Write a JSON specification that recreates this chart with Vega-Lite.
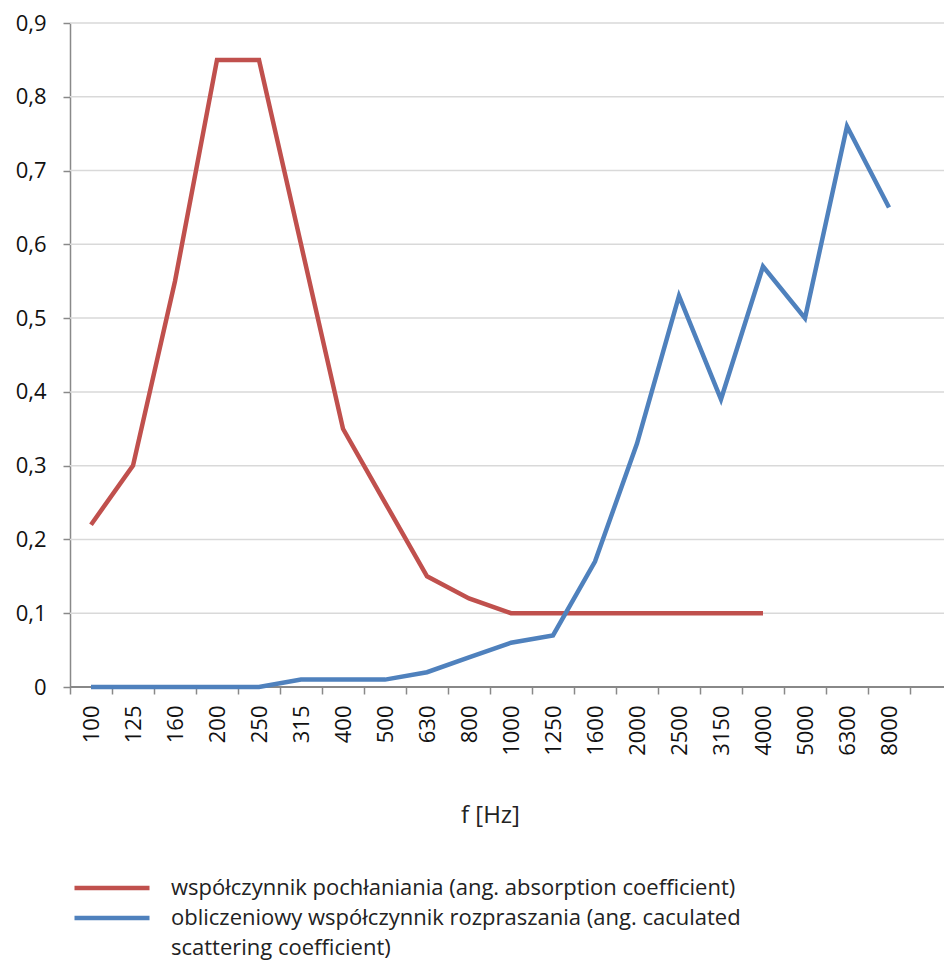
{
  "$schema": "https://vega.github.io/schema/vega-lite/v6.json",
  "width": 874,
  "height": 664,
  "autosize": {"type": "none"},
  "padding": {"left": 70, "top": 23, "right": 0, "bottom": 276},
  "background": "white",
  "config": {
    "font": "Open Sans",
    "view": {"stroke": null}
  },
  "data": {
    "values": [
      {"f": "100", "s": "A", "v": 0.22},
      {"f": "125", "s": "A", "v": 0.30},
      {"f": "160", "s": "A", "v": 0.55},
      {"f": "200", "s": "A", "v": 0.85},
      {"f": "250", "s": "A", "v": 0.85},
      {"f": "315", "s": "A", "v": 0.60},
      {"f": "400", "s": "A", "v": 0.35},
      {"f": "500", "s": "A", "v": 0.25},
      {"f": "630", "s": "A", "v": 0.15},
      {"f": "800", "s": "A", "v": 0.12},
      {"f": "1000", "s": "A", "v": 0.10},
      {"f": "1250", "s": "A", "v": 0.10},
      {"f": "1600", "s": "A", "v": 0.10},
      {"f": "2000", "s": "A", "v": 0.10},
      {"f": "2500", "s": "A", "v": 0.10},
      {"f": "3150", "s": "A", "v": 0.10},
      {"f": "4000", "s": "A", "v": 0.10},
      {"f": "100", "s": "B", "v": 0.0},
      {"f": "125", "s": "B", "v": 0.0},
      {"f": "160", "s": "B", "v": 0.0},
      {"f": "200", "s": "B", "v": 0.0},
      {"f": "250", "s": "B", "v": 0.0},
      {"f": "315", "s": "B", "v": 0.01},
      {"f": "400", "s": "B", "v": 0.01},
      {"f": "500", "s": "B", "v": 0.01},
      {"f": "630", "s": "B", "v": 0.02},
      {"f": "800", "s": "B", "v": 0.04},
      {"f": "1000", "s": "B", "v": 0.06},
      {"f": "1250", "s": "B", "v": 0.07},
      {"f": "1600", "s": "B", "v": 0.17},
      {"f": "2000", "s": "B", "v": 0.33},
      {"f": "2500", "s": "B", "v": 0.53},
      {"f": "3150", "s": "B", "v": 0.39},
      {"f": "4000", "s": "B", "v": 0.57},
      {"f": "5000", "s": "B", "v": 0.50},
      {"f": "6300", "s": "B", "v": 0.76},
      {"f": "8000", "s": "B", "v": 0.65}
    ]
  },
  "layer": [
    {
      "data": {"values": [{"g": 0.1}, {"g": 0.2}, {"g": 0.3}, {"g": 0.4}, {"g": 0.5}, {"g": 0.6}, {"g": 0.7}, {"g": 0.8}, {"g": 0.9}]},
      "mark": {"type": "rule", "color": "#d9d9d9", "strokeWidth": 1.5},
      "encoding": {"y": {"field": "g", "type": "quantitative"}}
    },
    {
      "mark": {"type": "rule", "color": "#898989", "strokeWidth": 1.5},
      "encoding": {"y": {"datum": 0, "type": "quantitative"}}
    },
    {
      "mark": {"type": "line", "strokeWidth": 4.5, "strokeCap": "butt", "strokeJoin": "miter"},
      "encoding": {
        "x": {
          "field": "f",
          "type": "ordinal",
          "sort": null,
          "scale": {
            "type": "band",
            "domain": ["100","125","160","200","250","315","400","500","630","800","1000","1250","1600","2000","2500","3150","4000","5000","6300","8000"],
            "range": [0, 840],
            "paddingInner": 0,
            "paddingOuter": 0
          },
          "axis": {
            "title": "f [Hz]",
            "titleFontSize": 24,
            "titleFontWeight": "normal",
            "titleColor": "#222",
            "titlePadding": 48,
            "labelAngle": -90,
            "labelAlign": "right",
            "labelBaseline": "middle",
            "labelFontSize": 22,
            "labelColor": "#111",
            "labelPadding": 11,
            "tickBand": "extent",
            "tickColor": "#898989",
            "tickSize": 7,
            "tickWidth": 1.5,
            "domain": false,
            "grid": false
          }
        },
        "y": {
          "field": "v",
          "type": "quantitative",
          "scale": {"domain": [0, 0.9], "nice": false},
          "axis": {
            "title": null,
            "values": [0, 0.1, 0.2, 0.3, 0.4, 0.5, 0.6, 0.7, 0.8, 0.9],
            "labelExpr": "datum.value == 0 ? '0' : replace(format(datum.value, '.1f'), '.', ',')",
            "labelFontSize": 22,
            "labelColor": "#111",
            "labelPadding": 17,
            "domainColor": "#898989",
            "domainWidth": 1.5,
            "tickColor": "#898989",
            "tickSize": 7,
            "tickWidth": 1.5,
            "grid": false
          }
        },
        "color": {
          "field": "s",
          "type": "nominal",
          "scale": {"domain": ["A", "B", "C"], "range": ["#C0504D", "#4F81BD", "rgba(255,255,255,0)"]},
          "legend": {
            "title": null,
            "orient": "none",
            "legendX": 31,
            "legendY": 854,
            "direction": "vertical",
            "symbolType": "M-5,0H5",
            "symbolSize": 225,
            "symbolStrokeWidth": 4.5,
            "symbolFillColor": "transparent",
            "labelFontSize": 22,
            "labelColor": "#222",
            "labelOffset": 48,
            "labelLimit": 900,
            "labelBaseline": "middle",
            "rowPadding": 8,
            "labelExpr": "datum.value == 'A' ? 'współczynnik pochłaniania (ang. absorption coefficient)' : datum.value == 'B' ? 'obliczeniowy współczynnik rozpraszania (ang. caculated' : 'scattering coefficient)'"
          }
        }
      }
    }
  ]
}
